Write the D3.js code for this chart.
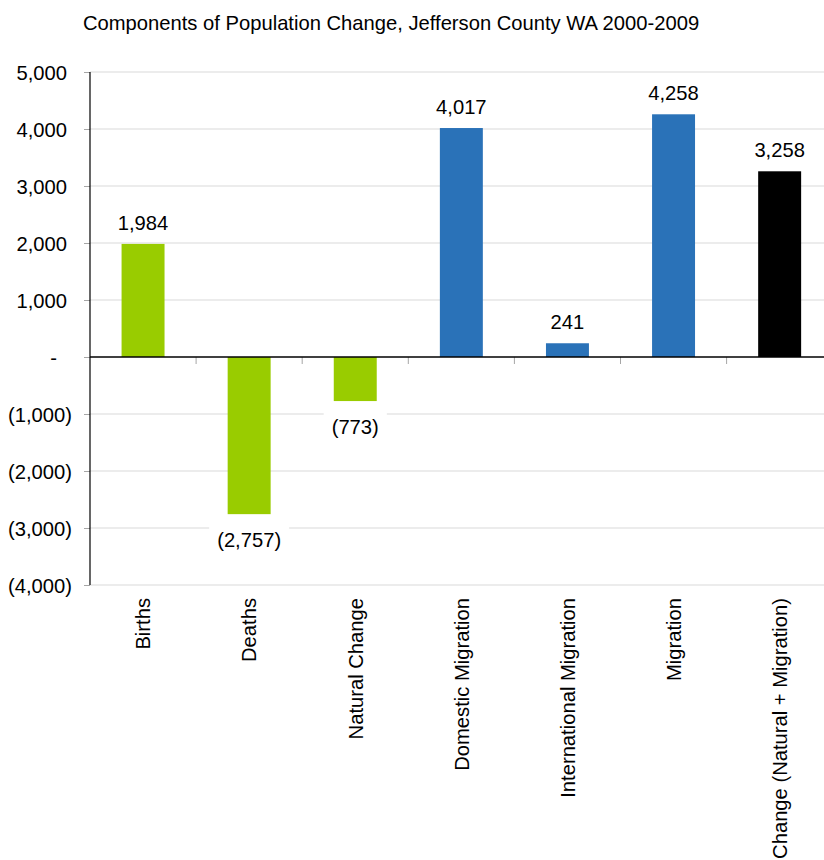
<!DOCTYPE html>
<html>
<head>
<meta charset="utf-8">
<script src="https://cdn.jsdelivr.net/npm/d3@7"></script>
<style>
  html, body { margin: 0; padding: 0; background: #fff; }
  svg { display: block; }
  text { font-family: "Liberation Sans", Arial, sans-serif; fill: #000; }
</style>
</head>
<body>
<svg id="chart" width="824" height="860"></svg>
<script>
// Components of population change, 2000-2009
const categories = ["Births", "Deaths", "Natural Change", "Domestic Migration",
                    "International Migration", "Migration", "Change (Natural + Migration)"];
const values = [1984, -2757, -773, 4017, 241, 4258, 3258];
const barColors = ["#99cc00", "#99cc00", "#99cc00", "#2a72b8", "#2a72b8", "#2a72b8", "#000000"];
const yTicks = [5000, 4000, 3000, 2000, 1000, 0, -1000, -2000, -3000, -4000];
const title = "Components of Population Change, Jefferson County WA 2000-2009";

const svg = d3.select("#chart");
const W = 824;
const plotLeft = 90, plotTop = 72, plotBottom = 585;
const step = 106.1;
const fs = 20.2;

const x = d3.scaleBand()
  .domain(categories)
  .range([plotLeft, plotLeft + step * categories.length])
  .padding(0);
const y = d3.scaleLinear().domain([-4000, 5000]).range([plotBottom, plotTop]);

const barW = x.bandwidth() * 0.405;
const fmt = d3.format(",");
const acct = v => v === 0 ? "-" : v < 0 ? "(" + fmt(-v) + ")" : fmt(v);

// Title
svg.append("text")
  .attr("x", 83).attr("y", 30)
  .attr("font-size", fs)
  .text(title);

// Horizontal gridlines
svg.append("g").selectAll("line")
  .data(yTicks.filter(d => d !== 0))
  .join("line")
  .attr("x1", plotLeft).attr("x2", W)
  .attr("y1", d => y(d)).attr("y2", d => y(d))
  .attr("stroke", "#d9d9d9").attr("stroke-width", 1);

// Y axis: tick marks and accounting-style labels
const yAxis = d3.axisLeft(y).tickValues(yTicks).tickSize(6).tickPadding(0).tickFormat(acct);
const yg = svg.append("g").attr("transform", `translate(${plotLeft},0)`).call(yAxis);
yg.select(".domain").remove();
yg.selectAll(".tick line").attr("stroke", "#a6a6a6");
yg.selectAll(".tick text")
  .attr("font-size", fs)
  .attr("font-family", "Liberation Sans, Arial, sans-serif")
  .attr("fill", "#000")
  .attr("text-anchor", "end")
  .attr("x", d => d === 0 ? -33 : d < 0 ? -18 : -23)
  .attr("dy", "0.36em");

// Bars
svg.append("g").selectAll("rect")
  .data(values)
  .join("rect")
  .attr("x", (d, i) => x(categories[i]) + (x.bandwidth() - barW) / 2)
  .attr("width", barW)
  .attr("y", d => y(Math.max(0, d)))
  .attr("height", d => Math.abs(y(d) - y(0)))
  .attr("fill", (d, i) => barColors[i]);

// Category separator ticks under the zero line
svg.append("g").selectAll("line")
  .data(categories.slice(1))
  .join("line")
  .attr("x1", d => x(d)).attr("x2", d => x(d))
  .attr("y1", y(0)).attr("y2", y(0) + 7)
  .attr("stroke", "#a6a6a6");

// Axis lines
svg.append("line")
  .attr("x1", plotLeft).attr("x2", plotLeft)
  .attr("y1", plotTop).attr("y2", plotBottom)
  .attr("stroke", "#000").attr("stroke-width", 1.2);
svg.append("line")
  .attr("x1", plotLeft).attr("x2", W)
  .attr("y1", y(0)).attr("y2", y(0))
  .attr("stroke", "#000").attr("stroke-width", 1.5);

// Value labels, with a white backing box so gridlines break around them
const lg = svg.append("g");
values.forEach((v, i) => {
  const cx = x(categories[i]) + x.bandwidth() / 2;
  const by = v >= 0 ? y(v) - 14 : y(v) + 33;
  const g = lg.append("g");
  const t = g.append("text")
    .attr("x", cx).attr("y", by)
    .attr("text-anchor", "middle")
    .attr("font-size", fs)
    .text(acct(v));
  const bb = t.node().getBBox();
  g.insert("rect", "text")
    .attr("x", bb.x - 8).attr("y", bb.y - 4)
    .attr("width", bb.width + 16).attr("height", bb.height + 6)
    .attr("fill", "#fff");
});

// Rotated category labels
svg.append("g").selectAll("text")
  .data(categories)
  .join("text")
  .attr("transform", d => `translate(${x(d) + x.bandwidth() / 2},598) rotate(-90)`)
  .attr("text-anchor", "end")
  .attr("dy", "0.36em")
  .attr("font-size", fs)
  .text(d => d);
</script>
</body>
</html>
